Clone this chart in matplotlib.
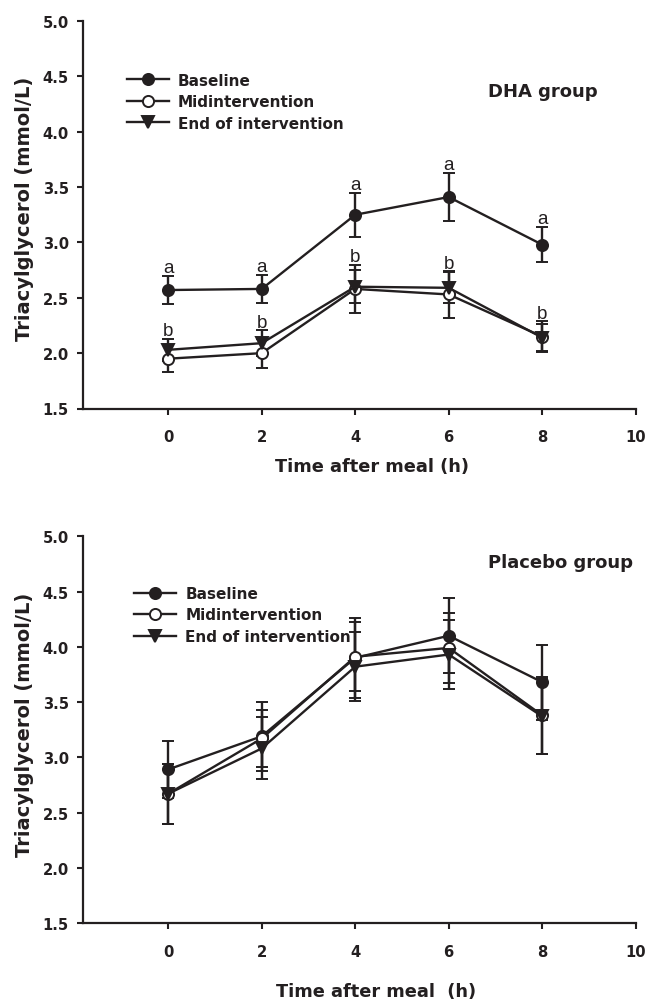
import matplotlib
matplotlib.use("Agg")
import matplotlib.pyplot as plt

# ---- data ----
hours = [0, 2, 4, 6, 8]
series_names = ["Baseline", "Midintervention", "End of intervention"]

dha_baseline = [2.57, 2.58, 3.25, 3.41, 2.98]
dha_baseline_se = [0.125, 0.128, 0.20, 0.22, 0.157]
dha_mid = [1.95, 2.00, 2.58, 2.53, 2.15]
dha_mid_se = [0.12, 0.13, 0.22, 0.21, 0.14]
dha_end = [2.03, 2.09, 2.60, 2.59, 2.14]
dha_end_se = [0.10, 0.12, 0.15, 0.14, 0.12]
dha_letters_top = ["a", "a", "a", "a", "a"]
dha_letters_low = ["b", "b", "b", "b", "b"]

pl_baseline = [2.89, 3.19, 3.90, 4.10, 3.68]
pl_baseline_se = [0.26, 0.31, 0.36, 0.34, 0.34]
pl_mid = [2.67, 3.17, 3.91, 3.99, 3.38]
pl_mid_se = [0.27, 0.26, 0.31, 0.32, 0.35]
pl_end = [2.67, 3.08, 3.82, 3.93, 3.37]
pl_end_se = [0.27, 0.28, 0.31, 0.31, 0.34]

xticks = [0, 2, 4, 6, 8, 10]
yticks = [1.5, 2.0, 2.5, 3.0, 3.5, 4.0, 4.5, 5.0]

# ---- style ----
C = "#231f20"
plt.rcParams["font.family"] = ["DejaVu Sans"]
plt.rcParams["font.weight"] = "bold"

W, H = 650, 1003
fig = plt.figure(figsize=(W / 100, H / 100), dpi=100)


def fx(px):
    return px / W


def fy(py):
    return 1 - py / H


styles = [
    dict(marker="o", mfc=C, mec=C, ms=8),
    dict(marker="o", mfc="white", mec=C, ms=8),
    dict(marker="v", mfc=C, mec=C, ms=9),
]


def panel(ax_rect, data, ses, legend_px, group_text, group_px, xlabel, xlabel_px, ylabel_py):
    ax = fig.add_axes(ax_rect)
    handles = []
    for vals, se, st, name in zip(data, ses, styles, series_names):
        cont = ax.errorbar(hours, vals, yerr=se, color=C, lw=1.7, elinewidth=1.7,
                           capsize=4.5, capthick=1.7, mew=1.4, label=name, **st)
        handles.append(cont[0])
    ax.set_xlim(-1.83, 10)
    ax.set_ylim(1.5, 5.0)
    ax.set_xticks(xticks)
    ax.set_yticks(yticks)
    ax.set_yticklabels([f"{v:.1f}" for v in yticks])
    for s in ["top", "right"]:
        ax.spines[s].set_visible(False)
    for s in ["left", "bottom"]:
        ax.spines[s].set_linewidth(1.6)
        ax.spines[s].set_color(C)
    ax.tick_params(axis="both", direction="out", length=4, width=1.5, color=C,
                   labelsize=10.6, labelcolor=C)
    ax.tick_params(axis="x", pad=11)
    ax.tick_params(axis="y", pad=6)
    leg = fig.legend(handles=handles, labels=series_names, loc="center left",
                     bbox_to_anchor=(fx(legend_px[0]), fy(legend_px[1])),
                     frameon=False, borderpad=0, borderaxespad=0,
                     handlelength=2.75, handletextpad=0.6, labelspacing=0.42,
                     prop=dict(size=11, weight="bold"))
    for t in leg.get_texts():
        t.set_color(C)
    fig.text(fx(group_px[0]), fy(group_px[1]), group_text, ha="left", va="center",
             fontsize=13, fontweight="bold", color=C)
    fig.text(fx(xlabel_px[0]), fy(xlabel_px[1]), xlabel, ha="center", va="center",
             fontsize=12.8, fontweight="bold", color=C)
    fig.text(fx(25), fy(ylabel_py), "Triacylglycerol (mmol/L)", rotation=90,
             ha="center", va="center", fontsize=14, fontweight="bold", color=C)
    return ax


ax1 = panel([fx(82.7), fy(409.5), fx(635.7) - fx(82.7), fy(22) - fy(409.5)],
            [dha_baseline, dha_mid, dha_end], [dha_baseline_se, dha_mid_se, dha_end_se],
            (126.7, 102.7), "DHA group", (488.5, 91.7), "Time after meal (h)", (372, 466.7), 209)

for x, v, s, lab in zip(hours, dha_baseline, dha_baseline_se, dha_letters_top):
    ax1.text(x, v + s + 0.035, lab, ha="center", va="baseline", fontsize=13.5,
             fontweight="normal", family=["Liberation Sans"], color=C)
for x, m, ms, e, es, lab in zip(hours, dha_mid, dha_mid_se, dha_end, dha_end_se, dha_letters_low):
    top = max(m + ms, e + es)
    ax1.text(x, top + 0.03, lab, ha="center", va="baseline", fontsize=13.5,
             fontweight="normal", family=["Liberation Sans"], color=C)

ax2 = panel([fx(82.7), fy(924), fx(635.7) - fx(82.7), fy(537.3) - fy(924)],
            [pl_baseline, pl_mid, pl_end], [pl_baseline_se, pl_mid_se, pl_end_se],
            (134, 616), "Placebo group", (488.5, 562.7), "Time after meal  (h)", (375.6, 991.7), 725)

fig.savefig("out.png", dpi=100)
